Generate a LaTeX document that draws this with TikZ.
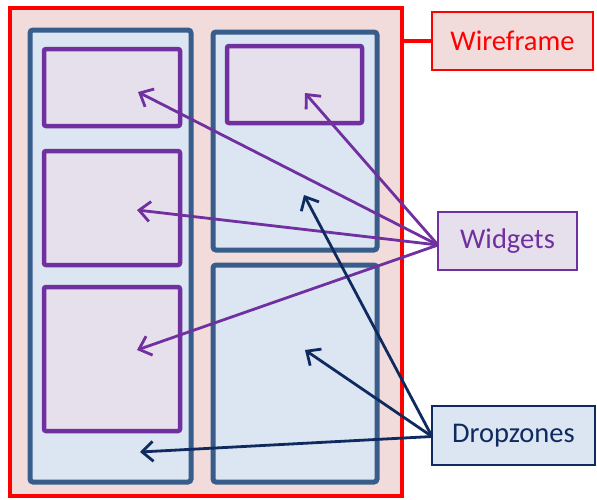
\documentclass[tikz,border=0pt]{standalone}
\usepackage{fontspec}
\setmainfont{Carlito}
\usetikzlibrary{arrows.meta}
\definecolor{wfred}{HTML}{FF0000}
\definecolor{wffill}{HTML}{F2DCDB}
\definecolor{dzline}{HTML}{385D8A}
\definecolor{dzfill}{HTML}{DCE6F2}
\definecolor{wdline}{HTML}{7030A0}
\definecolor{wdfill}{HTML}{E6E0EC}
\definecolor{navy}{HTML}{0F2A5E}
\tikzset{
  box/.style={anchor=north west, inner sep=0pt, outer sep=0pt},
  dzbox/.style={box, draw=dzline, fill=dzfill, line width=5pt, rounded corners=3pt},
  wdbox/.style={box, draw=wdline, fill=wdfill, line width=4.5pt, rounded corners=2pt},
  lbl/.style={box, line width=1.5pt, font=\fontsize{28.5}{32}\selectfont},
  wdarrow/.style={draw=wdline, line width=2.8pt, -{Straight Barb[length=11pt,width=20pt,line width=2.8pt]}},
  dzarrow/.style={draw=navy, line width=2.8pt, -{Straight Barb[length=11pt,width=20pt,line width=2.8pt]}},
}
\begin{document}
\begin{tikzpicture}[x=1pt,y=-1pt]
\useasboundingbox (0,0) rectangle (597,499);
\fill[white] (0,0) rectangle (597,499);
% outer wireframe
\node[box, draw=wfred, fill=wffill, line width=4.5pt, minimum width=392pt, minimum height=488pt] (outer) at (10,8) {};
% dropzones
\node[dzbox, minimum width=161pt, minimum height=452pt] (dzl) at (30,30) {};
\node[dzbox, minimum width=164pt, minimum height=218pt] (dzrt) at (213,32) {};
\node[dzbox, minimum width=164pt, minimum height=217pt] (dzrb) at (213,265) {};
% widgets
\node[wdbox, minimum width=136pt, minimum height=77pt] (w1) at (44,49) {};
\node[wdbox, minimum width=136pt, minimum height=114pt] (w2) at (44,151) {};
\node[wdbox, minimum width=136pt, minimum height=144pt] (w3) at (44,287) {};
\node[wdbox, minimum width=135pt, minimum height=77pt] (w4) at (227,46) {};
% labels
\node[lbl, draw=wfred, fill=wffill, text=wfred, minimum width=161pt, minimum height=58pt] (lwf) at (432,12) {Wireframe};
\node[lbl, draw=wdline, fill=wdfill, text=wdline, minimum width=139pt, minimum height=58pt] (lwd) at (438,212) {Widgets};
\node[lbl, draw=navy, fill=dzfill, text=navy, minimum width=163pt, minimum height=59pt] (ldz) at (432,406) {Dropzones};
% wireframe connector
\draw[wfred, line width=4.5pt] (lwf.west) -- (lwf.west -| outer.east);
% arrow targets
\coordinate (t1) at (138,92);
\coordinate (t2) at (137,210);
\coordinate (t3) at (137,350);
\coordinate (t4) at (305,93);
\coordinate (t5) at (304,195);
\coordinate (t6) at (305,350);
\coordinate (t7) at (140,452);
\coordinate (wsrc) at ([yshift=-4pt]lwd.west);
\coordinate (dsrc) at ([yshift=-1pt]ldz.west);
\draw[wdarrow] (wsrc) -- (t1);
\draw[wdarrow] (wsrc) -- (t2);
\draw[wdarrow] (wsrc) -- (t3);
\draw[wdarrow] (wsrc) -- (t4);
\draw[dzarrow] (dsrc) -- (t5);
\draw[dzarrow] (dsrc) -- (t6);
\draw[dzarrow] (dsrc) -- (t7);
\end{tikzpicture}
\end{document}
